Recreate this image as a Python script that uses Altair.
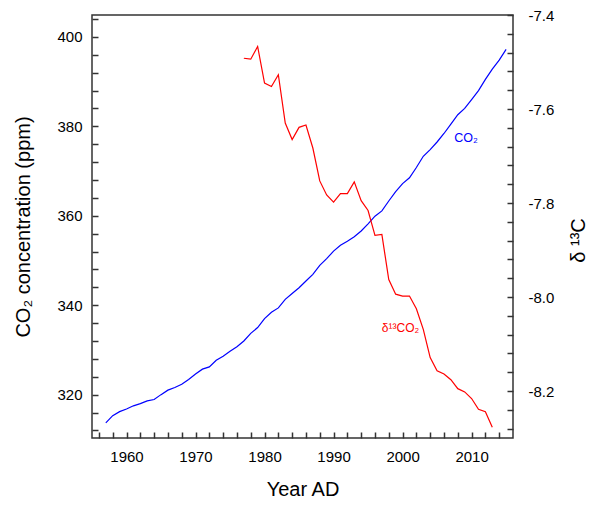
import altair as alt
import pandas as pd

# ---- data ----
co2_years = list(range(1957, 2016))
co2_ppm = [313.7, 315.3, 316.2, 316.8, 317.5, 318.0, 318.6, 318.9, 320.0, 321.0,
           321.6, 322.3, 323.4, 324.6, 325.7, 326.2, 327.7, 328.6, 329.7, 330.7,
           332.0, 333.7, 335.0, 337.0, 338.4, 339.4, 341.3, 342.6, 343.9, 345.4,
           346.9, 348.9, 350.4, 352.1, 353.4, 354.3, 355.3, 356.6, 358.2, 359.9,
           361.1, 363.3, 365.4, 367.2, 368.5, 370.8, 373.3, 374.8, 376.5, 378.4,
           380.5, 382.6, 384.0, 386.0, 388.0, 390.5, 392.8, 394.8, 397.2]

d13c_years = list(range(1977, 2014))
d13c_vals = [-7.492, -7.494, -7.467, -7.545, -7.552, -7.527, -7.630, -7.665, -7.639,
             -7.634, -7.683, -7.753, -7.783, -7.798, -7.780, -7.780, -7.755, -7.795,
             -7.816, -7.869, -7.867, -7.963, -7.994, -7.998, -7.998, -8.025, -8.069,
             -8.129, -8.157, -8.164, -8.176, -8.195, -8.202, -8.216, -8.239, -8.244,
             -8.277]

x_ticks = [1956, 1958, 1960, 1962, 1964, 1966, 1968, 1970, 1972, 1974, 1976, 1978,
           1980, 1982, 1984, 1986, 1988, 1990, 1992, 1994, 1996, 1998, 2000, 2002,
           2004, 2006, 2008, 2010, 2012, 2014]
co2_ticks = [312, 316, 320, 324, 328, 332, 336, 340, 344, 348, 352, 356, 360, 364,
             368, 372, 376, 380, 384, 388, 392, 396, 400, 404]
d13_ticks = [-8.28, -8.24, -8.20, -8.16, -8.12, -8.08, -8.04, -8.00, -7.96, -7.92,
             -7.88, -7.84, -7.80, -7.76, -7.72, -7.68, -7.64, -7.60, -7.56, -7.52,
             -7.48, -7.44, -7.40]

co2_label = {"year": [2007.5], "val": [376.6], "text": ["CO₂"]}
d13_label = {"year": [1997.0], "val": [-8.075], "text": ["δ¹³CO₂"]}

co2_df = pd.DataFrame({"year": co2_years, "val": co2_ppm})
d13_df = pd.DataFrame({"year": d13c_years, "val": d13c_vals})

FONT = "Liberation Sans"
x_scale = alt.Scale(domain=[1955, 2016], nice=False, zero=False)
co2_scale = alt.Scale(domain=[310.3, 404.9], nice=False, zero=False)
d13_scale = alt.Scale(domain=[-8.3, -7.4], nice=False, zero=False)

x_axis = alt.Axis(values=x_ticks, format="d",
                  labelExpr="datum.value % 10 == 0 ? datum.label : ''",
                  offset=-6, domain=False, tickSize=6, labelPadding=11,
                  grid=False, title="Year AD", titlePadding=15)
co2_axis = alt.Axis(values=co2_ticks, orient="left",
                    labelExpr="datum.value % 20 == 0 ? datum.label : ''",
                    offset=-6, domain=False, tickSize=6, labelPadding=10,
                    grid=False, title="CO₂ concentration (ppm)", titlePadding=23)
d13_axis = alt.Axis(values=d13_ticks, orient="right",
                    labelExpr="abs(round(datum.value*100)) % 20 == 0 ? ((datum.value < 0 ? '-' : '') + format(abs(datum.value), '.1f')) : ''",
                    offset=-6, domain=False, tickSize=6, labelPadding=15,
                    grid=False, title="δ ¹³C", titleAngle=270, titlePadding=35,
                    titleY=225)

X = alt.X("year:Q", scale=x_scale, axis=x_axis)

blue = alt.Chart(co2_df).mark_line(color="#0000ff", strokeWidth=1.2).encode(
    x=X, y=alt.Y("val:Q", scale=co2_scale, axis=co2_axis),
)
blue_text = alt.Chart(pd.DataFrame(co2_label)).mark_text(
    color="#0000ff", fontSize=12.5, align="left", baseline="alphabetic", font=FONT
).encode(
    x=X, y=alt.Y("val:Q", scale=co2_scale, axis=co2_axis), text="text:N",
)
blue_layer = alt.layer(blue, blue_text)

red = alt.Chart(d13_df).mark_line(color="#ff0000", strokeWidth=1.2).encode(
    x=X, y=alt.Y("val:Q", scale=d13_scale, axis=d13_axis),
)
red_text = alt.Chart(pd.DataFrame(d13_label)).mark_text(
    color="#ff0000", fontSize=12, align="left", baseline="alphabetic", font=FONT
).encode(
    x=X, y=alt.Y("val:Q", scale=d13_scale, axis=d13_axis), text="text:N",
)
red_layer = alt.layer(red, red_text)

chart = alt.layer(blue_layer, red_layer).resolve_scale(y="independent").properties(
    width=421, height=423,
    autosize=alt.AutoSizeParams(type="none"),
    padding={"left": 84, "top": 7, "right": 82, "bottom": 60},
).configure_view(
    stroke="#333333", strokeWidth=1.5
).configure_axis(
    labelFont=FONT, titleFont=FONT, labelFontSize=15, titleFontSize=20,
    labelColor="#000000", titleColor="#000000", titleFontWeight="normal",
    tickColor="#333333", tickWidth=1.5
)

chart.save("out.html", embed_options={"renderer": "svg", "actions": False})
